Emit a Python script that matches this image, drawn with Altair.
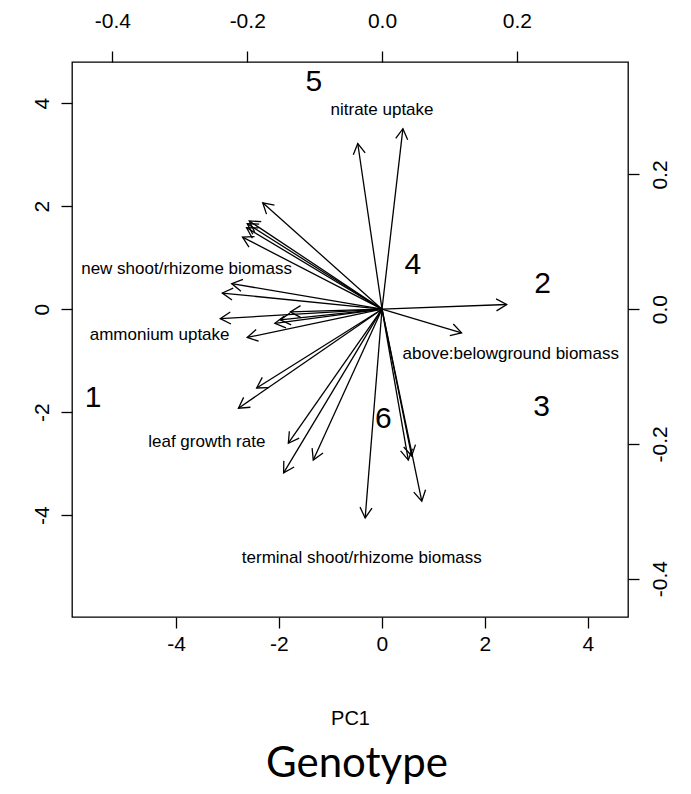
import altair as alt
import pandas as pd

# ---- Genotype scores (PC1 / PC2, bottom-left axes) ----
genotype = ["1", "2", "3", "4", "5", "6"]
score_pc1 = [-5.61, 3.12, 3.10, 0.60, -1.32, 0.03]
score_pc2 = [-1.73, 0.49, -1.90, 0.85, 4.41, -2.14]

# ---- Variable loadings (top-right axes) ----
load_pc1 = [-0.036, 0.031, -0.177, -0.197, -0.200, -0.201, -0.207, -0.223, -0.237,
            -0.240, -0.151, -0.159, -0.136, -0.200, -0.186, -0.213, -0.139, -0.146,
            -0.102, -0.025, 0.039, 0.044, 0.059, 0.185, 0.118]
load_pc2 = [0.246, 0.268, 0.158, 0.131, 0.127, 0.121, 0.107, 0.038, 0.024,
            -0.014, -0.016, -0.021, -0.004, -0.042, -0.117, -0.147, -0.199, -0.243,
            -0.224, -0.310, -0.224, -0.218, -0.285, 0.007, -0.035]

# ---- Variable group labels (loading units) ----
var_labels = ["nitrate uptake", "new shoot/rhizome biomass", "ammonium uptake",
              "above:belowground biomass", "leaf growth rate",
              "terminal shoot/rhizome biomass"]
var_label_x = [0.000, -0.290, -0.330, 0.191, -0.260, -0.030]
var_label_y = [0.295, 0.059, -0.039, -0.067, -0.197, -0.370]

# ---- Axes ----
score_ticks = [-4, -2, 0, 2, 4]
load_ticks = [-0.4, -0.2, 0.0, 0.2]
score_domain_x = [-6.02, 4.78]
score_domain_y = [-5.98, 4.80]
load_domain_x = [-0.460, 0.365]
load_domain_y = [-0.457, 0.367]

scores = pd.DataFrame({"g": genotype, "pc1": score_pc1, "pc2": score_pc2})
loads = pd.DataFrame({"lx": load_pc1, "ly": load_pc2})
labels = pd.DataFrame({"label": var_labels, "vx": var_label_x, "vy": var_label_y})

FONT = "Liberation Sans"
HYPHEN = "replace(datum.label, '\u2212', '-')"

x_score = alt.X("pc1:Q", scale=alt.Scale(domain=score_domain_x, nice=False, zero=False),
                axis=alt.Axis(orient="bottom", values=score_ticks, format="d",
                              labelExpr=HYPHEN,
                              title="PC1", titlePadding=54, labelPadding=5,
                              labelOverlap=False, labelFlush=False))
y_score = alt.Y("pc2:Q", scale=alt.Scale(domain=score_domain_y, nice=False, zero=False),
                axis=alt.Axis(orient="left", values=score_ticks, format="d", title=None,
                              labelExpr=HYPHEN,
                              labelAngle=-90, labelAlign="center", labelBaseline="bottom",
                              labelPadding=9, labelOverlap=False, labelFlush=False))

score_text = alt.Chart(scores).mark_text(
    font=FONT, fontSize=30, color="black", align="center", baseline="middle"
).encode(x=x_score, y=y_score, text="g:N")


def lx(field):
    return alt.X(f"{field}:Q", scale=alt.Scale(domain=load_domain_x, nice=False, zero=False),
                 axis=alt.Axis(orient="top", values=load_ticks, format=".1f", title=None,
                               labelExpr=HYPHEN,
                               labelPadding=20, labelOverlap=False, labelFlush=False))


def ly(field):
    return alt.Y(f"{field}:Q", scale=alt.Scale(domain=load_domain_y, nice=False, zero=False),
                 axis=alt.Axis(orient="right", values=load_ticks, format=".1f", title=None,
                               labelExpr=HYPHEN,
                               labelAngle=-90, labelAlign="center", labelBaseline="top",
                               labelPadding=10, labelOverlap=False, labelFlush=False))


shafts = alt.Chart(loads).mark_rule(color="black", strokeWidth=1.3).encode(
    x=lx("lx"), y=ly("ly"), x2=alt.datum(0), y2=alt.datum(0)
)

heads = alt.Chart(loads).transform_calculate(
    ang="(atan2(datum.lx, datum.ly) * 180 / PI + 360) % 360"
).mark_point(
    shape="M -0.5 0.866 L 0 0 L 0.5 0.866", filled=False, size=576,
    color="black", strokeWidth=1.3, opacity=1
).encode(x=lx("lx"), y=ly("ly"), angle=alt.Angle("ang:Q", scale=None))

var_text = alt.Chart(labels).mark_text(
    font=FONT, fontSize=17, color="black", align="center", baseline="middle"
).encode(x=lx("vx"), y=ly("vy"), text="label:N")

loading_layer = alt.layer(shafts, heads, var_text)

chart = alt.layer(score_text, loading_layer).resolve_scale(
    x="independent", y="independent"
).properties(
    width=556, height=555,
    padding={"left": 64, "top": 54, "right": 55, "bottom": 169},
    autosize=alt.AutoSizeParams(type="none"),
    background="white",
    title=alt.Title("Genotype", orient="bottom", anchor="middle", font="Lato",
                    fontSize=42, fontWeight="normal", color="black", offset=16, dx=7),
).configure_view(
    stroke="black", strokeWidth=1.3
).configure_axis(
    grid=False, domain=False, ticks=True, tickColor="black", tickWidth=1.3, tickSize=11,
    labelColor="black", labelFont=FONT, labelFontSize=21,
    titleFont=FONT, titleFontSize=20, titleFontWeight="normal", titleColor="black"
)

chart.save("out.html", embed_options={"renderer": "svg", "actions": False})
